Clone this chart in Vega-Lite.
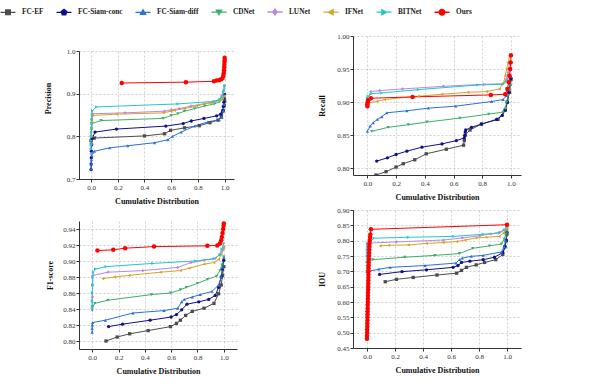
{
"$schema":"https://vega.github.io/schema/vega-lite/v6.json",
"background":"white",
"padding":{"left":3,"top":7,"right":5,"bottom":5},
"datasets":{
"P":[
{"model":"FC-EF","x":0,"y":0.79},{"model":"FC-EF","x":0.025,"y":0.796},{"model":"FC-EF","x":0.4,"y":0.801},{"model":"FC-EF","x":0.55,"y":0.806},{"model":"FC-EF","x":0.595,"y":0.814},{"model":"FC-EF","x":0.7,"y":0.82},{"model":"FC-EF","x":0.81,"y":0.825},{"model":"FC-EF","x":0.89,"y":0.832},{"model":"FC-EF","x":0.95,"y":0.838},{"model":"FC-EF","x":0.975,"y":0.845},{"model":"FC-EF","x":0.99,"y":0.86},{"model":"FC-EF","x":0.997,"y":0.872},{"model":"FC-EF","x":1,"y":0.883},
{"model":"FC-Siam-conc","x":0,"y":0.722},{"model":"FC-Siam-conc","x":0.001,"y":0.735},{"model":"FC-Siam-conc","x":0.002,"y":0.75},{"model":"FC-Siam-conc","x":0.003,"y":0.765},{"model":"FC-Siam-conc","x":0.005,"y":0.78},{"model":"FC-Siam-conc","x":0.008,"y":0.795},{"model":"FC-Siam-conc","x":0.03,"y":0.81},{"model":"FC-Siam-conc","x":0.19,"y":0.817},{"model":"FC-Siam-conc","x":0.56,"y":0.824},{"model":"FC-Siam-conc","x":0.69,"y":0.83},{"model":"FC-Siam-conc","x":0.75,"y":0.836},{"model":"FC-Siam-conc","x":0.845,"y":0.842},{"model":"FC-Siam-conc","x":0.94,"y":0.848},{"model":"FC-Siam-conc","x":0.97,"y":0.852},{"model":"FC-Siam-conc","x":0.985,"y":0.86},{"model":"FC-Siam-conc","x":0.99,"y":0.87},{"model":"FC-Siam-conc","x":0.995,"y":0.88},{"model":"FC-Siam-conc","x":0.998,"y":0.89},{"model":"FC-Siam-conc","x":1,"y":0.898},
{"model":"FC-Siam-diff","x":0,"y":0.723},{"model":"FC-Siam-diff","x":0.002,"y":0.735},{"model":"FC-Siam-diff","x":0.004,"y":0.745},{"model":"FC-Siam-diff","x":0.006,"y":0.755},{"model":"FC-Siam-diff","x":0.01,"y":0.762},{"model":"FC-Siam-diff","x":0.025,"y":0.765},{"model":"FC-Siam-diff","x":0.14,"y":0.773},{"model":"FC-Siam-diff","x":0.275,"y":0.778},{"model":"FC-Siam-diff","x":0.475,"y":0.785},{"model":"FC-Siam-diff","x":0.575,"y":0.792},{"model":"FC-Siam-diff","x":0.61,"y":0.8},{"model":"FC-Siam-diff","x":0.675,"y":0.81},{"model":"FC-Siam-diff","x":0.775,"y":0.824},{"model":"FC-Siam-diff","x":0.875,"y":0.834},{"model":"FC-Siam-diff","x":0.96,"y":0.839},{"model":"FC-Siam-diff","x":0.98,"y":0.845},{"model":"FC-Siam-diff","x":0.99,"y":0.86},{"model":"FC-Siam-diff","x":0.995,"y":0.875},{"model":"FC-Siam-diff","x":1,"y":0.894},
{"model":"CDNet","x":0,"y":0.78},{"model":"CDNet","x":0.002,"y":0.8},{"model":"CDNet","x":0.004,"y":0.815},{"model":"CDNet","x":0.007,"y":0.83},{"model":"CDNet","x":0.075,"y":0.837},{"model":"CDNet","x":0.54,"y":0.842},{"model":"CDNet","x":0.6,"y":0.849},{"model":"CDNet","x":0.65,"y":0.853},{"model":"CDNet","x":0.7,"y":0.859},{"model":"CDNet","x":0.775,"y":0.865},{"model":"CDNet","x":0.85,"y":0.871},{"model":"CDNet","x":0.925,"y":0.876},{"model":"CDNet","x":0.96,"y":0.881},{"model":"CDNet","x":0.985,"y":0.887},{"model":"CDNet","x":1,"y":0.894},
{"model":"LUNet","x":0,"y":0.76},{"model":"LUNet","x":0.001,"y":0.78},{"model":"LUNet","x":0.002,"y":0.8},{"model":"LUNet","x":0.004,"y":0.82},{"model":"LUNet","x":0.006,"y":0.84},{"model":"LUNet","x":0.01,"y":0.853},{"model":"LUNet","x":0.255,"y":0.855},{"model":"LUNet","x":0.55,"y":0.859},{"model":"LUNet","x":0.6,"y":0.862},{"model":"LUNet","x":0.66,"y":0.865},{"model":"LUNet","x":0.75,"y":0.871},{"model":"LUNet","x":0.85,"y":0.877},{"model":"LUNet","x":0.925,"y":0.881},{"model":"LUNet","x":0.96,"y":0.886},{"model":"LUNet","x":0.98,"y":0.895},{"model":"LUNet","x":0.99,"y":0.905},{"model":"LUNet","x":1,"y":0.919},
{"model":"IFNet","x":0,"y":0.8},{"model":"IFNet","x":0.003,"y":0.82},{"model":"IFNet","x":0.006,"y":0.835},{"model":"IFNet","x":0.012,"y":0.849},{"model":"IFNet","x":0.19,"y":0.852},{"model":"IFNet","x":0.54,"y":0.855},{"model":"IFNet","x":0.6,"y":0.859},{"model":"IFNet","x":0.625,"y":0.861},{"model":"IFNet","x":0.7,"y":0.865},{"model":"IFNet","x":0.79,"y":0.871},{"model":"IFNet","x":0.85,"y":0.876},{"model":"IFNet","x":0.9,"y":0.878},{"model":"IFNet","x":0.96,"y":0.884},{"model":"IFNet","x":0.985,"y":0.889},{"model":"IFNet","x":1,"y":0.894},
{"model":"BITNet","x":0,"y":0.77},{"model":"BITNet","x":0,"y":0.78},{"model":"BITNet","x":0.001,"y":0.79},{"model":"BITNet","x":0.002,"y":0.8},{"model":"BITNet","x":0.003,"y":0.81},{"model":"BITNet","x":0.004,"y":0.82},{"model":"BITNet","x":0.005,"y":0.83},{"model":"BITNet","x":0.006,"y":0.84},{"model":"BITNet","x":0.008,"y":0.85},{"model":"BITNet","x":0.01,"y":0.86},{"model":"BITNet","x":0.04,"y":0.869},{"model":"BITNet","x":0.65,"y":0.876},{"model":"BITNet","x":0.92,"y":0.882},{"model":"BITNet","x":0.96,"y":0.886},{"model":"BITNet","x":0.98,"y":0.892},{"model":"BITNet","x":0.99,"y":0.9},{"model":"BITNet","x":0.995,"y":0.908},{"model":"BITNet","x":1,"y":0.918},
{"model":"Ours","x":0.23,"y":0.925},{"model":"Ours","x":0.71,"y":0.927},{"model":"Ours","x":0.92,"y":0.929},{"model":"Ours","x":0.94,"y":0.931},{"model":"Ours","x":0.96,"y":0.932},{"model":"Ours","x":0.975,"y":0.934},{"model":"Ours","x":0.985,"y":0.937},{"model":"Ours","x":0.99,"y":0.942},{"model":"Ours","x":0.993,"y":0.948},{"model":"Ours","x":0.995,"y":0.955},{"model":"Ours","x":0.997,"y":0.962},{"model":"Ours","x":0.998,"y":0.968},{"model":"Ours","x":0.999,"y":0.974},{"model":"Ours","x":1,"y":0.979},{"model":"Ours","x":1,"y":0.984}
],
"R":[
{"model":"FC-EF","x":0.06,"y":0.79},{"model":"FC-EF","x":0.13,"y":0.795},{"model":"FC-EF","x":0.2,"y":0.802},{"model":"FC-EF","x":0.25,"y":0.807},{"model":"FC-EF","x":0.33,"y":0.813},{"model":"FC-EF","x":0.41,"y":0.822},{"model":"FC-EF","x":0.55,"y":0.829},{"model":"FC-EF","x":0.67,"y":0.835},{"model":"FC-EF","x":0.675,"y":0.842},{"model":"FC-EF","x":0.68,"y":0.85},{"model":"FC-EF","x":0.715,"y":0.858},{"model":"FC-EF","x":0.795,"y":0.867},{"model":"FC-EF","x":0.91,"y":0.874},{"model":"FC-EF","x":0.96,"y":0.888},{"model":"FC-EF","x":0.975,"y":0.9},{"model":"FC-EF","x":0.99,"y":0.915},{"model":"FC-EF","x":1,"y":0.934},
{"model":"FC-Siam-conc","x":0.065,"y":0.811},{"model":"FC-Siam-conc","x":0.14,"y":0.816},{"model":"FC-Siam-conc","x":0.2,"y":0.821},{"model":"FC-Siam-conc","x":0.275,"y":0.826},{"model":"FC-Siam-conc","x":0.38,"y":0.832},{"model":"FC-Siam-conc","x":0.52,"y":0.837},{"model":"FC-Siam-conc","x":0.62,"y":0.842},{"model":"FC-Siam-conc","x":0.675,"y":0.846},{"model":"FC-Siam-conc","x":0.68,"y":0.85},{"model":"FC-Siam-conc","x":0.682,"y":0.855},{"model":"FC-Siam-conc","x":0.685,"y":0.858},{"model":"FC-Siam-conc","x":0.725,"y":0.862},{"model":"FC-Siam-conc","x":0.795,"y":0.867},{"model":"FC-Siam-conc","x":0.9,"y":0.874},{"model":"FC-Siam-conc","x":0.94,"y":0.88},{"model":"FC-Siam-conc","x":0.96,"y":0.888},{"model":"FC-Siam-conc","x":0.975,"y":0.9},{"model":"FC-Siam-conc","x":0.985,"y":0.915},{"model":"FC-Siam-conc","x":1,"y":0.936},
{"model":"FC-Siam-diff","x":0,"y":0.856},{"model":"FC-Siam-diff","x":0.02,"y":0.864},{"model":"FC-Siam-diff","x":0.04,"y":0.869},{"model":"FC-Siam-diff","x":0.07,"y":0.874},{"model":"FC-Siam-diff","x":0.1,"y":0.878},{"model":"FC-Siam-diff","x":0.135,"y":0.884},{"model":"FC-Siam-diff","x":0.275,"y":0.887},{"model":"FC-Siam-diff","x":0.425,"y":0.891},{"model":"FC-Siam-diff","x":0.615,"y":0.894},{"model":"FC-Siam-diff","x":0.865,"y":0.901},{"model":"FC-Siam-diff","x":0.945,"y":0.904},{"model":"FC-Siam-diff","x":0.97,"y":0.91},{"model":"FC-Siam-diff","x":0.985,"y":0.92},{"model":"FC-Siam-diff","x":1,"y":0.939},
{"model":"CDNet","x":0.03,"y":0.856},{"model":"CDNet","x":0.145,"y":0.862},{"model":"CDNet","x":0.285,"y":0.866},{"model":"CDNet","x":0.415,"y":0.87},{"model":"CDNet","x":0.645,"y":0.876},{"model":"CDNet","x":0.845,"y":0.882},{"model":"CDNet","x":0.945,"y":0.885},{"model":"CDNet","x":0.96,"y":0.89},{"model":"CDNet","x":0.97,"y":0.9},{"model":"CDNet","x":0.98,"y":0.91},{"model":"CDNet","x":0.99,"y":0.918},{"model":"CDNet","x":1,"y":0.926},
{"model":"LUNet","x":0,"y":0.905},{"model":"LUNet","x":0.025,"y":0.916},{"model":"LUNet","x":0.085,"y":0.9175},{"model":"LUNet","x":0.245,"y":0.92},{"model":"LUNet","x":0.53,"y":0.924},{"model":"LUNet","x":0.81,"y":0.927},{"model":"LUNet","x":0.945,"y":0.928},{"model":"LUNet","x":0.97,"y":0.935},{"model":"LUNet","x":0.98,"y":0.945},{"model":"LUNet","x":0.99,"y":0.958},
{"model":"IFNet","x":0.007,"y":0.899},{"model":"IFNet","x":0.065,"y":0.901},{"model":"IFNet","x":0.12,"y":0.904},{"model":"IFNet","x":0.355,"y":0.909},{"model":"IFNet","x":0.52,"y":0.912},{"model":"IFNet","x":0.7,"y":0.915},{"model":"IFNet","x":0.83,"y":0.916},{"model":"IFNet","x":0.92,"y":0.92},{"model":"IFNet","x":0.95,"y":0.93},{"model":"IFNet","x":0.96,"y":0.94},{"model":"IFNet","x":0.97,"y":0.95},{"model":"IFNet","x":0.98,"y":0.96},{"model":"IFNet","x":0.99,"y":0.968},
{"model":"BITNet","x":0,"y":0.906},{"model":"BITNet","x":0.005,"y":0.909},{"model":"BITNet","x":0.03,"y":0.913},{"model":"BITNet","x":0.1,"y":0.914},{"model":"BITNet","x":0.355,"y":0.919},{"model":"BITNet","x":0.77,"y":0.926},{"model":"BITNet","x":0.945,"y":0.927},{"model":"BITNet","x":0.97,"y":0.932},{"model":"BITNet","x":0.985,"y":0.94},{"model":"BITNet","x":1,"y":0.95},
{"model":"Ours","x":0,"y":0.894},{"model":"Ours","x":0,"y":0.897},{"model":"Ours","x":0.002,"y":0.9},{"model":"Ours","x":0.005,"y":0.903},{"model":"Ours","x":0.025,"y":0.906},{"model":"Ours","x":0.315,"y":0.908},{"model":"Ours","x":0.86,"y":0.911},{"model":"Ours","x":0.96,"y":0.912},{"model":"Ours","x":0.975,"y":0.92},{"model":"Ours","x":0.985,"y":0.93},{"model":"Ours","x":0.99,"y":0.94},{"model":"Ours","x":0.995,"y":0.95},{"model":"Ours","x":0.998,"y":0.96},{"model":"Ours","x":1,"y":0.971}
],
"F":[
{"model":"FC-EF","x":0.105,"y":0.8},{"model":"FC-EF","x":0.19,"y":0.805},{"model":"FC-EF","x":0.285,"y":0.809},{"model":"FC-EF","x":0.425,"y":0.813},{"model":"FC-EF","x":0.595,"y":0.818},{"model":"FC-EF","x":0.64,"y":0.822},{"model":"FC-EF","x":0.67,"y":0.826},{"model":"FC-EF","x":0.71,"y":0.832},{"model":"FC-EF","x":0.76,"y":0.837},{"model":"FC-EF","x":0.85,"y":0.841},{"model":"FC-EF","x":0.925,"y":0.847},{"model":"FC-EF","x":0.96,"y":0.859},{"model":"FC-EF","x":0.98,"y":0.87},{"model":"FC-EF","x":0.99,"y":0.882},{"model":"FC-EF","x":1,"y":0.893},
{"model":"FC-Siam-conc","x":0.125,"y":0.818},{"model":"FC-Siam-conc","x":0.23,"y":0.821},{"model":"FC-Siam-conc","x":0.44,"y":0.826},{"model":"FC-Siam-conc","x":0.6,"y":0.83},{"model":"FC-Siam-conc","x":0.64,"y":0.833},{"model":"FC-Siam-conc","x":0.68,"y":0.839},{"model":"FC-Siam-conc","x":0.72,"y":0.846},{"model":"FC-Siam-conc","x":0.81,"y":0.849},{"model":"FC-Siam-conc","x":0.885,"y":0.852},{"model":"FC-Siam-conc","x":0.935,"y":0.857},{"model":"FC-Siam-conc","x":0.96,"y":0.867},{"model":"FC-Siam-conc","x":0.98,"y":0.88},{"model":"FC-Siam-conc","x":0.99,"y":0.89},{"model":"FC-Siam-conc","x":1,"y":0.901},
{"model":"FC-Siam-diff","x":0,"y":0.811},{"model":"FC-Siam-diff","x":0,"y":0.816},{"model":"FC-Siam-diff","x":0.001,"y":0.82},{"model":"FC-Siam-diff","x":0.003,"y":0.823},{"model":"FC-Siam-diff","x":0.1,"y":0.826},{"model":"FC-Siam-diff","x":0.31,"y":0.835},{"model":"FC-Siam-diff","x":0.545,"y":0.838},{"model":"FC-Siam-diff","x":0.65,"y":0.841},{"model":"FC-Siam-diff","x":0.68,"y":0.849},{"model":"FC-Siam-diff","x":0.7,"y":0.852},{"model":"FC-Siam-diff","x":0.76,"y":0.855},{"model":"FC-Siam-diff","x":0.82,"y":0.858},{"model":"FC-Siam-diff","x":0.91,"y":0.862},{"model":"FC-Siam-diff","x":0.96,"y":0.87},{"model":"FC-Siam-diff","x":0.98,"y":0.88},{"model":"FC-Siam-diff","x":0.99,"y":0.892},{"model":"FC-Siam-diff","x":1,"y":0.905},
{"model":"CDNet","x":0,"y":0.838},{"model":"CDNet","x":0.005,"y":0.843},{"model":"CDNet","x":0.02,"y":0.847},{"model":"CDNet","x":0.12,"y":0.851},{"model":"CDNet","x":0.45,"y":0.858},{"model":"CDNet","x":0.595,"y":0.86},{"model":"CDNet","x":0.67,"y":0.864},{"model":"CDNet","x":0.715,"y":0.867},{"model":"CDNet","x":0.8,"y":0.872},{"model":"CDNet","x":0.875,"y":0.877},{"model":"CDNet","x":0.945,"y":0.881},{"model":"CDNet","x":0.97,"y":0.888},{"model":"CDNet","x":0.985,"y":0.895},{"model":"CDNet","x":1,"y":0.905},
{"model":"LUNet","x":0,"y":0.841},{"model":"LUNet","x":0.002,"y":0.855},{"model":"LUNet","x":0.004,"y":0.87},{"model":"LUNet","x":0.006,"y":0.882},{"model":"LUNet","x":0.12,"y":0.886},{"model":"LUNet","x":0.385,"y":0.888},{"model":"LUNet","x":0.65,"y":0.892},{"model":"LUNet","x":0.75,"y":0.898},{"model":"LUNet","x":0.85,"y":0.901},{"model":"LUNet","x":0.935,"y":0.903},{"model":"LUNet","x":0.97,"y":0.908},{"model":"LUNet","x":0.99,"y":0.913},{"model":"LUNet","x":1,"y":0.918},
{"model":"IFNet","x":0.08,"y":0.878},{"model":"IFNet","x":0.17,"y":0.88},{"model":"IFNet","x":0.28,"y":0.882},{"model":"IFNet","x":0.52,"y":0.886},{"model":"IFNet","x":0.67,"y":0.888},{"model":"IFNet","x":0.735,"y":0.891},{"model":"IFNet","x":0.85,"y":0.896},{"model":"IFNet","x":0.925,"y":0.898},{"model":"IFNet","x":0.96,"y":0.902},{"model":"IFNet","x":0.98,"y":0.908},{"model":"IFNet","x":1,"y":0.916},
{"model":"BITNet","x":0,"y":0.842},{"model":"BITNet","x":0,"y":0.85},{"model":"BITNet","x":0.001,"y":0.86},{"model":"BITNet","x":0.002,"y":0.87},{"model":"BITNet","x":0.004,"y":0.88},{"model":"BITNet","x":0.008,"y":0.886},{"model":"BITNet","x":0.025,"y":0.89},{"model":"BITNet","x":0.105,"y":0.893},{"model":"BITNet","x":0.46,"y":0.897},{"model":"BITNet","x":0.785,"y":0.9},{"model":"BITNet","x":0.925,"y":0.903},{"model":"BITNet","x":0.97,"y":0.908},{"model":"BITNet","x":0.985,"y":0.915},{"model":"BITNet","x":1,"y":0.922},
{"model":"Ours","x":0.04,"y":0.913},{"model":"Ours","x":0.16,"y":0.914},{"model":"Ours","x":0.25,"y":0.916},{"model":"Ours","x":0.47,"y":0.918},{"model":"Ours","x":0.875,"y":0.919},{"model":"Ours","x":0.95,"y":0.9195},{"model":"Ours","x":0.97,"y":0.922},{"model":"Ours","x":0.98,"y":0.926},{"model":"Ours","x":0.985,"y":0.93},{"model":"Ours","x":0.99,"y":0.935},{"model":"Ours","x":0.995,"y":0.94},{"model":"Ours","x":0.998,"y":0.944},{"model":"Ours","x":1,"y":0.947}
],
"I":[
{"model":"FC-EF","x":0.13,"y":0.666},{"model":"FC-EF","x":0.21,"y":0.674},{"model":"FC-EF","x":0.33,"y":0.68},{"model":"FC-EF","x":0.5,"y":0.688},{"model":"FC-EF","x":0.64,"y":0.694},{"model":"FC-EF","x":0.675,"y":0.703},{"model":"FC-EF","x":0.71,"y":0.713},{"model":"FC-EF","x":0.78,"y":0.721},{"model":"FC-EF","x":0.84,"y":0.729},{"model":"FC-EF","x":0.92,"y":0.738},{"model":"FC-EF","x":0.97,"y":0.755},{"model":"FC-EF","x":0.985,"y":0.78},{"model":"FC-EF","x":0.995,"y":0.8},{"model":"FC-EF","x":1,"y":0.822},
{"model":"FC-Siam-conc","x":0.09,"y":0.69},{"model":"FC-Siam-conc","x":0.25,"y":0.699},{"model":"FC-Siam-conc","x":0.425,"y":0.705},{"model":"FC-Siam-conc","x":0.615,"y":0.713},{"model":"FC-Siam-conc","x":0.65,"y":0.719},{"model":"FC-Siam-conc","x":0.675,"y":0.729},{"model":"FC-Siam-conc","x":0.735,"y":0.733},{"model":"FC-Siam-conc","x":0.83,"y":0.738},{"model":"FC-Siam-conc","x":0.91,"y":0.746},{"model":"FC-Siam-conc","x":0.97,"y":0.761},{"model":"FC-Siam-conc","x":0.985,"y":0.78},{"model":"FC-Siam-conc","x":0.995,"y":0.8},{"model":"FC-Siam-conc","x":1,"y":0.828},
{"model":"FC-Siam-diff","x":0,"y":0.699},{"model":"FC-Siam-diff","x":0.085,"y":0.707},{"model":"FC-Siam-diff","x":0.165,"y":0.713},{"model":"FC-Siam-diff","x":0.415,"y":0.719},{"model":"FC-Siam-diff","x":0.635,"y":0.727},{"model":"FC-Siam-diff","x":0.66,"y":0.738},{"model":"FC-Siam-diff","x":0.68,"y":0.743},{"model":"FC-Siam-diff","x":0.745,"y":0.749},{"model":"FC-Siam-diff","x":0.83,"y":0.752},{"model":"FC-Siam-diff","x":0.96,"y":0.763},{"model":"FC-Siam-diff","x":0.98,"y":0.78},{"model":"FC-Siam-diff","x":0.99,"y":0.8},{"model":"FC-Siam-diff","x":1,"y":0.828},
{"model":"CDNet","x":0,"y":0.7},{"model":"CDNet","x":0.001,"y":0.715},{"model":"CDNet","x":0.003,"y":0.73},{"model":"CDNet","x":0.04,"y":0.738},{"model":"CDNet","x":0.27,"y":0.746},{"model":"CDNet","x":0.485,"y":0.752},{"model":"CDNet","x":0.66,"y":0.758},{"model":"CDNet","x":0.755,"y":0.775},{"model":"CDNet","x":0.875,"y":0.783},{"model":"CDNet","x":0.96,"y":0.789},{"model":"CDNet","x":0.98,"y":0.805},{"model":"CDNet","x":0.99,"y":0.82},{"model":"CDNet","x":1,"y":0.833},
{"model":"LUNet","x":0,"y":0.76},{"model":"LUNet","x":0.001,"y":0.78},{"model":"LUNet","x":0.002,"y":0.792},{"model":"LUNet","x":0.21,"y":0.796},{"model":"LUNet","x":0.545,"y":0.802},{"model":"LUNet","x":0.68,"y":0.809},{"model":"LUNet","x":0.805,"y":0.816},{"model":"LUNet","x":0.885,"y":0.822},{"model":"LUNet","x":0.95,"y":0.828},{"model":"LUNet","x":0.98,"y":0.835},{"model":"LUNet","x":1,"y":0.844},
{"model":"IFNet","x":0.095,"y":0.783},{"model":"IFNet","x":0.155,"y":0.785},{"model":"IFNet","x":0.295,"y":0.786},{"model":"IFNet","x":0.425,"y":0.791},{"model":"IFNet","x":0.545,"y":0.794},{"model":"IFNet","x":0.64,"y":0.797},{"model":"IFNet","x":0.7,"y":0.802},{"model":"IFNet","x":0.78,"y":0.809},{"model":"IFNet","x":0.85,"y":0.811},{"model":"IFNet","x":0.945,"y":0.814},{"model":"IFNet","x":0.975,"y":0.825},{"model":"IFNet","x":1,"y":0.839},
{"model":"BITNet","x":0,"y":0.73},{"model":"BITNet","x":0,"y":0.75},{"model":"BITNet","x":0.001,"y":0.77},{"model":"BITNet","x":0.002,"y":0.789},{"model":"BITNet","x":0.05,"y":0.808},{"model":"BITNet","x":0.295,"y":0.811},{"model":"BITNet","x":0.62,"y":0.814},{"model":"BITNet","x":0.83,"y":0.821},{"model":"BITNet","x":0.945,"y":0.825},{"model":"BITNet","x":0.98,"y":0.835},{"model":"BITNet","x":1,"y":0.85},
{"model":"Ours","x":0,"y":0.48},{"model":"Ours","x":0,"y":0.49},{"model":"Ours","x":0.001,"y":0.5},{"model":"Ours","x":0.001,"y":0.51},{"model":"Ours","x":0.002,"y":0.52},{"model":"Ours","x":0.002,"y":0.53},{"model":"Ours","x":0.003,"y":0.54},{"model":"Ours","x":0.003,"y":0.55},{"model":"Ours","x":0.004,"y":0.56},{"model":"Ours","x":0.004,"y":0.57},{"model":"Ours","x":0.005,"y":0.58},{"model":"Ours","x":0.005,"y":0.59},{"model":"Ours","x":0.006,"y":0.6},{"model":"Ours","x":0.006,"y":0.61},{"model":"Ours","x":0.007,"y":0.62},{"model":"Ours","x":0.007,"y":0.63},{"model":"Ours","x":0.008,"y":0.64},{"model":"Ours","x":0.008,"y":0.65},{"model":"Ours","x":0.009,"y":0.66},{"model":"Ours","x":0.009,"y":0.67},{"model":"Ours","x":0.01,"y":0.68},{"model":"Ours","x":0.01,"y":0.69},{"model":"Ours","x":0.011,"y":0.7},{"model":"Ours","x":0.011,"y":0.71},{"model":"Ours","x":0.012,"y":0.72},{"model":"Ours","x":0.012,"y":0.73},{"model":"Ours","x":0.013,"y":0.74},{"model":"Ours","x":0.014,"y":0.75},{"model":"Ours","x":0.015,"y":0.76},{"model":"Ours","x":0.016,"y":0.77},{"model":"Ours","x":0.017,"y":0.78},{"model":"Ours","x":0.018,"y":0.79},{"model":"Ours","x":0.02,"y":0.8},{"model":"Ours","x":0.022,"y":0.81},{"model":"Ours","x":0.024,"y":0.82},{"model":"Ours","x":0.028,"y":0.837},{"model":"Ours","x":1,"y":0.852}
]
},
"hconcat":[
{"vconcat":[
{"vconcat":[
{"width":155,"height":1,"view":{"fill":"white","stroke":null},"data":{"values":[{"k":1}]},"mark":{"type":"text","text":""},"encoding":{}},
{"width":155,"height":128,
"data":{"name":"P"},
"encoding":{
"x":{"field":"x","type":"quantitative","scale":{"domain":[-0.09,1.07],"nice":false,"zero":false},"axis":{"values":[0,0.2,0.4,0.6,0.8,1],"format":".1f","title":"Cumulative Distribution"}},
"y":{"field":"y","type":"quantitative","scale":{"domain":[0.7,1.0],"nice":false,"zero":false},"axis":{"values":[0.7,0.8,0.9,1.0],"format":".1f","title":"Precision","titlePadding":14,"titleY":47}}},
"layer":[
{"mark":{"type":"line","strokeWidth":1,"clip":true},"encoding":{"detail":{"field":"model"},"order":{"field":"y","type":"quantitative"},
"stroke":{"condition":[{"test":"datum.model==='FC-EF'","value":"#4d4d4d"},{"test":"datum.model==='FC-Siam-conc'","value":"#10108c"},{"test":"datum.model==='FC-Siam-diff'","value":"#2b72d6"},{"test":"datum.model==='CDNet'","value":"#3cae6c"},{"test":"datum.model==='LUNet'","value":"#b988e6"},{"test":"datum.model==='IFNet'","value":"#d8a426"},{"test":"datum.model==='BITNet'","value":"#27c6c6"}],"value":"#ff0000"}}},
{"mark":{"type":"point","filled":true,"opacity":1,"clip":true},"encoding":{
"fill":{"condition":[{"test":"datum.model==='FC-EF'","value":"#4d4d4d"},{"test":"datum.model==='FC-Siam-conc'","value":"#10108c"},{"test":"datum.model==='FC-Siam-diff'","value":"#2b72d6"},{"test":"datum.model==='CDNet'","value":"#3cae6c"},{"test":"datum.model==='LUNet'","value":"#b988e6"},{"test":"datum.model==='IFNet'","value":"#d8a426"},{"test":"datum.model==='BITNet'","value":"#27c6c6"}],"value":"#ff0000"},
"shape":{"condition":[{"test":"datum.model==='FC-EF'","value":"square"},{"test":"datum.model==='FC-Siam-conc'","value":"circle"},{"test":"datum.model==='FC-Siam-diff'","value":"triangle-up"},{"test":"datum.model==='CDNet'","value":"triangle-down"},{"test":"datum.model==='LUNet'","value":"diamond"},{"test":"datum.model==='IFNet'","value":"triangle-left"},{"test":"datum.model==='BITNet'","value":"triangle-right"}],"value":"circle"},
"size":{"condition":{"test":"datum.model==='Ours'","value":20},"value":11}}},
{"mark":{"type":"point","filled":true,"opacity":0},"encoding":{
"color":{"field":"model","type":"nominal","scale":{"domain":["FC-EF","FC-Siam-conc","FC-Siam-diff","CDNet","LUNet","IFNet","BITNet","Ours"],"range":["#4d4d4d","#10108c","#2b72d6","#3cae6c","#b988e6","#d8a426","#27c6c6","#ff0000"]},
"legend":{"orient":"none","legendX":-76,"legendY":-29,"direction":"horizontal","columns":8,"title":null,"symbolSize":100,"symbolOpacity":1,"symbolStrokeWidth":0,"labelFont":"Liberation Serif","labelFontSize":7.3,"labelFontWeight":"bold","labelColor":"#222","labelOffset":9,"columnPadding":12}},
"shape":{"field":"model","type":"nominal","scale":{"domain":["FC-EF","FC-Siam-conc","FC-Siam-diff","CDNet","LUNet","IFNet","BITNet","Ours"],"range":[
"M-1.5,-0.14H1.5V0.14H-1.5Z M-0.6,-0.6H0.6V0.6H-0.6Z",
"M-1.5,-0.14H1.5V0.14H-1.5Z M0,-0.75L0.713,-0.232L0.441,0.607L-0.441,0.607L-0.713,-0.232Z",
"M-1.5,-0.14H1.5V0.14H-1.5Z M0,-0.75L0.75,0.55H-0.75Z",
"M-1.5,-0.14H1.5V0.14H-1.5Z M0,0.75L-0.75,-0.55H0.75Z",
"M-1.5,-0.14H1.5V0.14H-1.5Z M0,-0.8L0.6,0L0,0.8L-0.6,0Z",
"M-1.5,-0.14H1.5V0.14H-1.5Z M-0.75,0L0.55,-0.75V0.75Z",
"M-1.5,-0.14H1.5V0.14H-1.5Z M0.75,0L-0.55,0.75V-0.75Z",
"M-1.5,-0.14H1.5V0.14H-1.5Z M-0.7,0A0.7,0.7 0 1,1 0.7,0A0.7,0.7 0 1,1 -0.7,0Z"]},
"legend":{"orient":"none","legendX":-76,"legendY":-29,"direction":"horizontal","columns":8,"title":null,"symbolSize":100,"symbolOpacity":1,"symbolStrokeWidth":0,"labelFont":"Liberation Serif","labelFontSize":7.3,"labelFontWeight":"bold","labelColor":"#222","labelOffset":9,"columnPadding":12}}}}
]}
],"spacing":5},
{"width":158,"height":128,
"data":{"name":"F"},
"encoding":{
"x":{"field":"x","type":"quantitative","scale":{"domain":[-0.1,1.1],"nice":false,"zero":false},"axis":{"values":[0,0.2,0.4,0.6,0.8,1],"format":".1f","title":"Cumulative Distribution"}},
"y":{"field":"y","type":"quantitative","scale":{"domain":[0.79,0.95],"nice":false,"zero":false},"axis":{"values":[0.8,0.82,0.84,0.86,0.88,0.9,0.92,0.94],"format":".2f","title":"F1-score","titlePadding":8,"titleY":54}}},
"layer":[
{"mark":{"type":"line","strokeWidth":1,"clip":true},"encoding":{"detail":{"field":"model"},"order":{"field":"y","type":"quantitative"},
"stroke":{"condition":[{"test":"datum.model==='FC-EF'","value":"#4d4d4d"},{"test":"datum.model==='FC-Siam-conc'","value":"#10108c"},{"test":"datum.model==='FC-Siam-diff'","value":"#2b72d6"},{"test":"datum.model==='CDNet'","value":"#3cae6c"},{"test":"datum.model==='LUNet'","value":"#b988e6"},{"test":"datum.model==='IFNet'","value":"#d8a426"},{"test":"datum.model==='BITNet'","value":"#27c6c6"}],"value":"#ff0000"}}},
{"mark":{"type":"point","filled":true,"opacity":1,"clip":true},"encoding":{
"fill":{"condition":[{"test":"datum.model==='FC-EF'","value":"#4d4d4d"},{"test":"datum.model==='FC-Siam-conc'","value":"#10108c"},{"test":"datum.model==='FC-Siam-diff'","value":"#2b72d6"},{"test":"datum.model==='CDNet'","value":"#3cae6c"},{"test":"datum.model==='LUNet'","value":"#b988e6"},{"test":"datum.model==='IFNet'","value":"#d8a426"},{"test":"datum.model==='BITNet'","value":"#27c6c6"}],"value":"#ff0000"},
"shape":{"condition":[{"test":"datum.model==='FC-EF'","value":"square"},{"test":"datum.model==='FC-Siam-conc'","value":"circle"},{"test":"datum.model==='FC-Siam-diff'","value":"triangle-up"},{"test":"datum.model==='CDNet'","value":"triangle-down"},{"test":"datum.model==='LUNet'","value":"diamond"},{"test":"datum.model==='IFNet'","value":"triangle-left"},{"test":"datum.model==='BITNet'","value":"triangle-right"}],"value":"circle"},
"size":{"condition":{"test":"datum.model==='Ours'","value":20},"value":11}}}
]}
],"spacing":16},
{"vconcat":[
{"width":168,"height":139,
"data":{"name":"R"},
"encoding":{
"x":{"field":"x","type":"quantitative","scale":{"domain":[-0.1,1.07],"nice":false,"zero":false},"axis":{"values":[0,0.2,0.4,0.6,0.8,1],"format":".1f","title":"Cumulative Distribution"}},
"y":{"field":"y","type":"quantitative","scale":{"domain":[0.79,1.0],"nice":false,"zero":false},"axis":{"values":[0.8,0.85,0.9,0.95,1.0],"format":".2f","title":"Recall","titlePadding":10}}},
"layer":[
{"mark":{"type":"line","strokeWidth":1,"clip":true},"encoding":{"detail":{"field":"model"},"order":{"field":"y","type":"quantitative"},
"stroke":{"condition":[{"test":"datum.model==='FC-EF'","value":"#4d4d4d"},{"test":"datum.model==='FC-Siam-conc'","value":"#10108c"},{"test":"datum.model==='FC-Siam-diff'","value":"#2b72d6"},{"test":"datum.model==='CDNet'","value":"#3cae6c"},{"test":"datum.model==='LUNet'","value":"#b988e6"},{"test":"datum.model==='IFNet'","value":"#d8a426"},{"test":"datum.model==='BITNet'","value":"#27c6c6"}],"value":"#ff0000"}}},
{"mark":{"type":"point","filled":true,"opacity":1,"clip":true},"encoding":{
"fill":{"condition":[{"test":"datum.model==='FC-EF'","value":"#4d4d4d"},{"test":"datum.model==='FC-Siam-conc'","value":"#10108c"},{"test":"datum.model==='FC-Siam-diff'","value":"#2b72d6"},{"test":"datum.model==='CDNet'","value":"#3cae6c"},{"test":"datum.model==='LUNet'","value":"#b988e6"},{"test":"datum.model==='IFNet'","value":"#d8a426"},{"test":"datum.model==='BITNet'","value":"#27c6c6"}],"value":"#ff0000"},
"shape":{"condition":[{"test":"datum.model==='FC-EF'","value":"square"},{"test":"datum.model==='FC-Siam-conc'","value":"circle"},{"test":"datum.model==='FC-Siam-diff'","value":"triangle-up"},{"test":"datum.model==='CDNet'","value":"triangle-down"},{"test":"datum.model==='LUNet'","value":"diamond"},{"test":"datum.model==='IFNet'","value":"triangle-left"},{"test":"datum.model==='BITNet'","value":"triangle-right"}],"value":"circle"},
"size":{"condition":{"test":"datum.model==='Ours'","value":20},"value":11}}}
]},
{"width":168,"height":138,
"data":{"name":"I"},
"encoding":{
"x":{"field":"x","type":"quantitative","scale":{"domain":[-0.1,1.1],"nice":false,"zero":false},"axis":{"values":[0,0.2,0.4,0.6,0.8,1],"format":".1f","title":"Cumulative Distribution"}},
"y":{"field":"y","type":"quantitative","scale":{"domain":[0.45,0.9],"nice":false,"zero":false},"axis":{"values":[0.45,0.5,0.55,0.6,0.65,0.7,0.75,0.8,0.85,0.9],"format":".2f","title":"IOU","titlePadding":10}}},
"layer":[
{"mark":{"type":"line","strokeWidth":1,"clip":true},"encoding":{"detail":{"field":"model"},"order":{"field":"y","type":"quantitative"},
"stroke":{"condition":[{"test":"datum.model==='FC-EF'","value":"#4d4d4d"},{"test":"datum.model==='FC-Siam-conc'","value":"#10108c"},{"test":"datum.model==='FC-Siam-diff'","value":"#2b72d6"},{"test":"datum.model==='CDNet'","value":"#3cae6c"},{"test":"datum.model==='LUNet'","value":"#b988e6"},{"test":"datum.model==='IFNet'","value":"#d8a426"},{"test":"datum.model==='BITNet'","value":"#27c6c6"}],"value":"#ff0000"}}},
{"mark":{"type":"point","filled":true,"opacity":1,"clip":true},"encoding":{
"fill":{"condition":[{"test":"datum.model==='FC-EF'","value":"#4d4d4d"},{"test":"datum.model==='FC-Siam-conc'","value":"#10108c"},{"test":"datum.model==='FC-Siam-diff'","value":"#2b72d6"},{"test":"datum.model==='CDNet'","value":"#3cae6c"},{"test":"datum.model==='LUNet'","value":"#b988e6"},{"test":"datum.model==='IFNet'","value":"#d8a426"},{"test":"datum.model==='BITNet'","value":"#27c6c6"}],"value":"#ff0000"},
"shape":{"condition":[{"test":"datum.model==='FC-EF'","value":"square"},{"test":"datum.model==='FC-Siam-conc'","value":"circle"},{"test":"datum.model==='FC-Siam-diff'","value":"triangle-up"},{"test":"datum.model==='CDNet'","value":"triangle-down"},{"test":"datum.model==='LUNet'","value":"diamond"},{"test":"datum.model==='IFNet'","value":"triangle-left"},{"test":"datum.model==='BITNet'","value":"triangle-right"}],"value":"circle"},
"size":{"condition":{"test":"datum.model==='Ours'","value":20},"value":11}}}
]}
],"spacing":5}
],
"spacing":81,
"config":{
"font":"Liberation Serif",
"view":{"stroke":null},
"axis":{"labelFont":"Liberation Serif","labelFontSize":7,"labelColor":"#333","titleFont":"Liberation Serif","titleFontSize":8,"titleFontWeight":"bold","titleColor":"#111","domainColor":"#333","domainWidth":1,"tickColor":"#333","tickSize":3,"labelPadding":1,"gridColor":"#c4c4c4","gridDash":[2,2],"gridWidth":0.8},
"axisX":{"titlePadding":7}
}
}
